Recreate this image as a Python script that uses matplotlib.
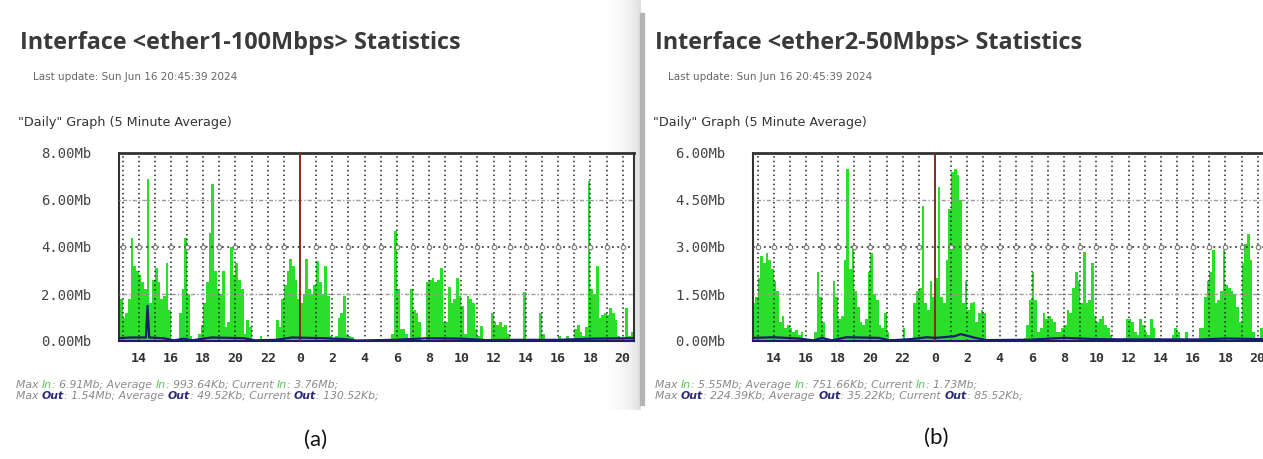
import numpy as np
import matplotlib
matplotlib.use("Agg")
import matplotlib.pyplot as plt
from matplotlib.patches import Rectangle

# ---------------- data (Mb, 10-minute samples) ----------------
# panel (a): ether1, samples start 12:40 of day 1 (hours counted from midnight of day 1)
start_a = 12 + 40 / 60
in_a = [
    1.8, 1.8,                          # 12:40-12:50
    1.0, 1.2, 1.8, 4.4, 3.2, 3.0,      # 13
    2.8, 2.5, 2.2, 6.9, 1.6, 2.6,      # 14
    3.1, 2.5, 1.8, 1.9, 3.3, 1.3,      # 15
    0.1, 0.05, 0.05, 1.2, 2.2, 4.4,    # 16
    2.0, 0.2, 0.05, 0.05, 0.3, 0.7,    # 17
    1.6, 2.5, 4.6, 6.7, 3.0, 2.2,      # 18
    2.0, 3.0, 0.6, 0.8, 4.0, 2.8,      # 19
    3.3, 2.6, 2.2, 0.3, 0.9, 0.6,      # 20
    0.1, 0.05, 0.05, 0.2, 0.05, 0.05,  # 21
    0.05, 0.05, 0.1, 0.9, 0.6, 1.8,    # 22
    2.4, 3.0, 3.5, 3.2, 2.6, 1.8,      # 23
    1.6, 2.0, 3.5, 2.2, 2.0, 2.4,      # 0
    3.4, 2.5, 2.0, 3.2, 1.9, 0.2,      # 1
    0.1, 0.2, 1.0, 1.2, 1.9, 0.3,      # 2
    0.2, 0.15, 0.05, 0.05, 0.05, 0.05, # 3
    0.05, 0.05, 0.05, 0.05, 0.05, 0.05,# 4
    0.05, 0.05, 0.05, 0.1, 0.3, 4.7,   # 5
    2.2, 0.5, 0.5, 0.3, 0.1, 2.2,      # 6
    1.3, 1.2, 0.8, 0.05, 0.05, 2.5,    # 7
    2.6, 2.7, 2.5, 2.6, 3.1, 0.8,      # 8
    0.8, 2.3, 1.6, 1.8, 2.7, 1.9,      # 9
    1.5, 0.3, 1.9, 1.8, 1.6, 0.5,      # 10
    0.2, 0.65, 0.1, 0.05, 0.05, 1.2,   # 11
    0.8, 0.7, 0.8, 0.6, 0.7, 0.3,      # 12
    0.1, 0.05, 0.05, 0.05, 0.05, 2.1,  # 13
    0.05, 0.05, 0.05, 0.05, 0.05, 1.2, # 14
    0.3, 0.05, 0.05, 0.05, 0.05, 0.05, # 15
    0.2, 0.05, 0.05, 0.2, 0.05, 0.05,  # 16
    0.5, 0.7, 0.4, 0.2, 0.6, 6.8,      # 17
    2.2, 2.0, 3.2, 1.0, 1.1, 1.2,      # 18
    1.1, 1.4, 1.2, 0.9, 0.2, 0.1,      # 19
    0.1, 1.4, 0.2, 0.4, 3.3,           # 20
]
out_a_t = [12.75, 13.5, 14.45, 14.55, 14.65, 15.5, 16.2, 16.8, 17.3, 18.5, 20.5,
           21.2, 22.5, 23.5, 25.5, 26.8, 27.5, 29.8, 32.0, 34.0, 35.5, 37.0,
           40.0, 42.0, 44.7]
out_a = [0.12, 0.15, 0.15, 1.5, 0.15, 0.12, 0.03, 0.1, 0.03, 0.15, 0.12,
         0.03, 0.05, 0.15, 0.12, 0.08, 0.02, 0.05, 0.12, 0.1, 0.04, 0.05,
         0.05, 0.1, 0.12]

# panel (b): ether2
start_b = 12 + 40 / 60
in_b = [
    1.2, 1.4,                          # 12:40-12:50
    2.0, 2.7, 2.5, 2.8, 2.6, 2.3,      # 13
    1.9, 1.6, 0.6, 0.8, 0.4, 0.5,      # 14
    0.4, 0.3, 0.35, 0.2, 0.3, 0.1,     # 15
    0.05, 0.05, 0.05, 0.3, 2.2, 1.4,   # 16
    0.6, 0.05, 0.05, 0.05, 1.9, 1.4,   # 17
    0.7, 0.8, 2.6, 5.5, 2.3, 3.0,      # 18
    1.6, 1.1, 0.6, 0.5, 0.7, 2.2,      # 19
    2.8, 1.5, 1.3, 0.5, 0.4, 0.9,      # 20
    0.3, 0.05, 0.05, 0.05, 0.05, 0.05, # 21
    0.4, 0.05, 0.05, 0.1, 1.2, 1.6,    # 22
    1.7, 4.3, 1.2, 1.0, 1.9, 1.4,      # 23
    2.0, 4.9, 1.4, 1.2, 2.6, 4.2,      # 0
    5.4, 5.5, 5.3, 4.5, 1.2, 1.9,      # 1
    1.0, 1.2, 1.25, 0.6, 0.9, 1.0,     # 2
    0.9, 0.05, 0.05, 0.05, 0.05, 0.05, # 3
    0.05, 0.05, 0.05, 0.05, 0.05, 0.05,# 4
    0.05, 0.05, 0.05, 0.1, 0.5, 1.3,   # 5
    2.2, 1.3, 0.3, 0.4, 0.9, 0.7,      # 6
    0.8, 0.7, 0.6, 0.3, 0.3, 0.4,      # 7
    0.5, 1.0, 0.9, 1.7, 2.2, 1.9,      # 8
    1.2, 2.85, 1.2, 1.3, 2.5, 0.8,     # 9
    0.6, 0.7, 0.8, 0.5, 0.4, 0.2,      # 10
    0.1, 0.05, 0.05, 0.05, 0.1, 0.7,   # 11
    0.7, 0.6, 0.3, 0.2, 0.7, 0.5,      # 12
    0.3, 0.2, 0.7, 0.4, 0.1, 0.1,      # 13
    0.05, 0.05, 0.05, 0.05, 0.2, 0.4,  # 14
    0.3, 0.1, 0.05, 0.3, 0.05, 0.05,   # 15
    0.05, 0.05, 0.4, 0.4, 1.4, 1.9,    # 16
    2.2, 2.9, 1.2, 1.3, 1.6, 2.9,      # 17
    1.8, 1.7, 1.6, 1.5, 1.1, 0.6,      # 18
    2.5, 3.1, 3.4, 2.6, 0.3, 0.1,      # 19
    0.1, 0.4,                          # 20
]
out_b_t = [12.75, 14.0, 15.5, 16.5, 17.0, 17.6, 18.5, 20.5, 21.2, 22.5, 23.5, 24.0,
           25.2, 25.6, 26.5, 27.2, 29.8, 32.0, 34.0, 36.0, 40.5, 42.0, 44.33]
out_b = [0.1, 0.12, 0.08, 0.02, 0.1, 0.02, 0.12, 0.1, 0.02, 0.06, 0.12, 0.1,
         0.15, 0.22, 0.1, 0.03, 0.04, 0.1, 0.06, 0.05, 0.05, 0.08, 0.06]

hour_ticks = [14, 16, 18, 20, 22, 24, 26, 28, 30, 32, 34, 36, 38, 40, 42, 44]
hour_labels = ["14", "16", "18", "20", "22", "0", "2", "4", "6", "8",
               "10", "12", "14", "16", "18", "20"]

ylab_a = ["0.00Mb", "2.00Mb", "4.00Mb", "6.00Mb", "8.00Mb"]
yval_a = [0, 2, 4, 6, 8]
ylab_b = ["0.00Mb", "1.50Mb", "3.00Mb", "4.50Mb", "6.00Mb"]
yval_b = [0, 1.5, 3.0, 4.5, 6.0]

titles = ["Interface <ether1-100Mbps> Statistics", "Interface <ether2-50Mbps> Statistics"]
updates = ["Last update: Sun Jun 16 20:45:39 2024", "Last update: Sun Jun 16 20:45:39 2024"]
stats_in = [["6.91Mb", "993.64Kb", "3.76Mb"], ["5.55Mb", "751.66Kb", "1.73Mb"]]
stats_out = [["1.54Mb", "49.52Kb", "130.52Kb"], ["224.39Kb", "35.22Kb", "85.52Kb"]]

# ---------------- figure ----------------
W, H = 1263, 459
fig = plt.figure(figsize=(W / 100, H / 100), dpi=100)
fig.patch.set_facecolor("white")

GREEN = "#2ade2a"
OUT = "#1c1c6e"
GRID = "#222222"


def fx(x):
    return x / W


def fy(y):
    return 1 - y / H


# shadow between the two screenshots
sh = fig.add_axes([fx(598), fy(410), fx(42), 410 / H])
grad = np.linspace(0, 1, 60) ** 2
sh.imshow(grad[None, :], aspect="auto", cmap="Greys", vmin=0, vmax=4.5,
          extent=[0, 1, 0, 1])
sh.axis("off")
fig.patches.append(Rectangle((fx(640), fy(405)), 4 / W, 392 / H,
                             transform=fig.transFigure, color="#b4b4b4", zorder=0))


def panel(rect, start, vals, out_t, out_v, xlim, yvals, ylabels, right_spine=True):
    ax = fig.add_axes(rect)
    step = 1 / 6
    t = start + step * np.arange(len(vals))
    ax.bar(t, vals, width=step, align="edge", color=GREEN, linewidth=0, zorder=2)
    ax.plot(out_t, out_v, color=OUT, lw=1.6, zorder=5)
    ax.set_xlim(*xlim)
    ax.set_ylim(yvals[0], yvals[-1])
    hours = np.arange(13, int(xlim[1]) + 1)
    hours = hours[hours != 24]
    ax.vlines(hours, yvals[0], yvals[-1], colors=GRID, linestyles=(0, (1, 2)),
              lw=1.1, zorder=3)
    ax.axvline(24, color="#8a2a1c", lw=1.4, zorder=4)
    mid = len(yvals) // 2
    for i, yv in enumerate(yvals[1:-1], start=1):
        if i == mid:
            ax.axhline(yv, color="#444444", ls=(0, (1, 2)), lw=1.3, zorder=3)
            ax.plot(hours, [yv] * len(hours), "o", mfc="white", mec="#777777",
                    ms=3.2, mew=0.8, zorder=3)
        else:
            ax.axhline(yv, color="#9a9a9a", ls=(0, (1, 1.5, 3, 1.5)), lw=1.0, zorder=3)
    ax.set_xticks(hour_ticks)
    ax.set_xticklabels(hour_labels, fontfamily="DejaVu Sans Mono",
                       fontsize=9.5, color="#333333", fontweight="bold")
    ax.set_yticks(yvals)
    ax.set_yticklabels(ylabels, fontfamily="DejaVu Sans Mono",
                       fontsize=10, color="#444444")
    ax.tick_params(axis="x", length=0, pad=8)
    ax.tick_params(axis="y", length=0, pad=20)
    for s in ["left", "bottom", "top", "right"]:
        ax.spines[s].set_color("#333333")
        ax.spines[s].set_linewidth(1.5)
    ax.spines["top"].set_linewidth(2.0)
    ax.spines["bottom"].set_color(OUT)
    if not right_spine:
        ax.spines["right"].set_visible(False)
    ax.set_facecolor("white")
    return ax


ax_a = panel([fx(119), fy(341), 515 / W, 188 / H], start_a, in_a, out_a_t, out_a,
             (12.78, 44.7), yval_a, ylab_a)
ax_b = panel([fx(753), fy(341), 510 / W, 188 / H], start_b, in_b, out_b_t, out_b,
             (12.72, 44.33), yval_b, ylab_b, right_spine=False)

# header texts
for x0, title, upd in [(20, titles[0], updates[0]), (655, titles[1], updates[1])]:
    fig.text(fx(x0), fy(49), title, fontfamily="Open Sans", fontweight="bold",
             fontsize=16.8, color="#3a3a3a", va="baseline", ha="left")
    fig.text(fx(x0 + 13), fy(77), upd, fontfamily="DejaVu Sans", fontsize=7.5,
             color="#666666", va="center", ha="left")
    fig.text(fx(x0 - 2), fy(123), '"Daily" Graph (5 Minute Average)',
             fontfamily="DejaVu Sans", fontsize=9.2, color="#333333",
             va="center", ha="left")

# stats lines with coloured words
fig.canvas.draw()
renderer = fig.canvas.get_renderer()


def seg_line(x0, y0, segs):
    x = fx(x0)
    for txt, col, wt in segs:
        t = fig.text(x, fy(y0), txt, fontfamily="DejaVu Sans", fontsize=7.8,
                     style="italic", color=col, fontweight=wt, va="center", ha="left")
        bb = t.get_window_extent(renderer=renderer)
        x += bb.width / W


GRAY = "#8a8a8a"
for x0, si, so in [(16, stats_in[0], stats_out[0]), (655, stats_in[1], stats_out[1])]:
    seg_line(x0, 385, [("Max ", GRAY, "normal"), ("In", "#55c855", "normal"),
                       (": " + si[0] + "; Average ", GRAY, "normal"), ("In", "#55c855", "normal"),
                       (": " + si[1] + "; Current ", GRAY, "normal"), ("In", "#55c855", "normal"),
                       (": " + si[2] + ";", GRAY, "normal")])
    seg_line(x0, 396, [("Max ", GRAY, "normal"), ("Out", "#2a2a7a", "bold"),
                       (": " + so[0] + "; Average ", GRAY, "normal"), ("Out", "#2a2a7a", "bold"),
                       (": " + so[1] + "; Current ", GRAY, "normal"), ("Out", "#2a2a7a", "bold"),
                       (": " + so[2] + ";", GRAY, "normal")])

fig.text(fx(316), fy(440), "(a)", fontfamily="Lato", fontsize=16, color="#111111",
         ha="center", va="center")
fig.text(fx(936), fy(438), "(b)", fontfamily="Lato", fontsize=16, color="#111111",
         ha="center", va="center")

fig.savefig("out.png", dpi=100, facecolor="white")
